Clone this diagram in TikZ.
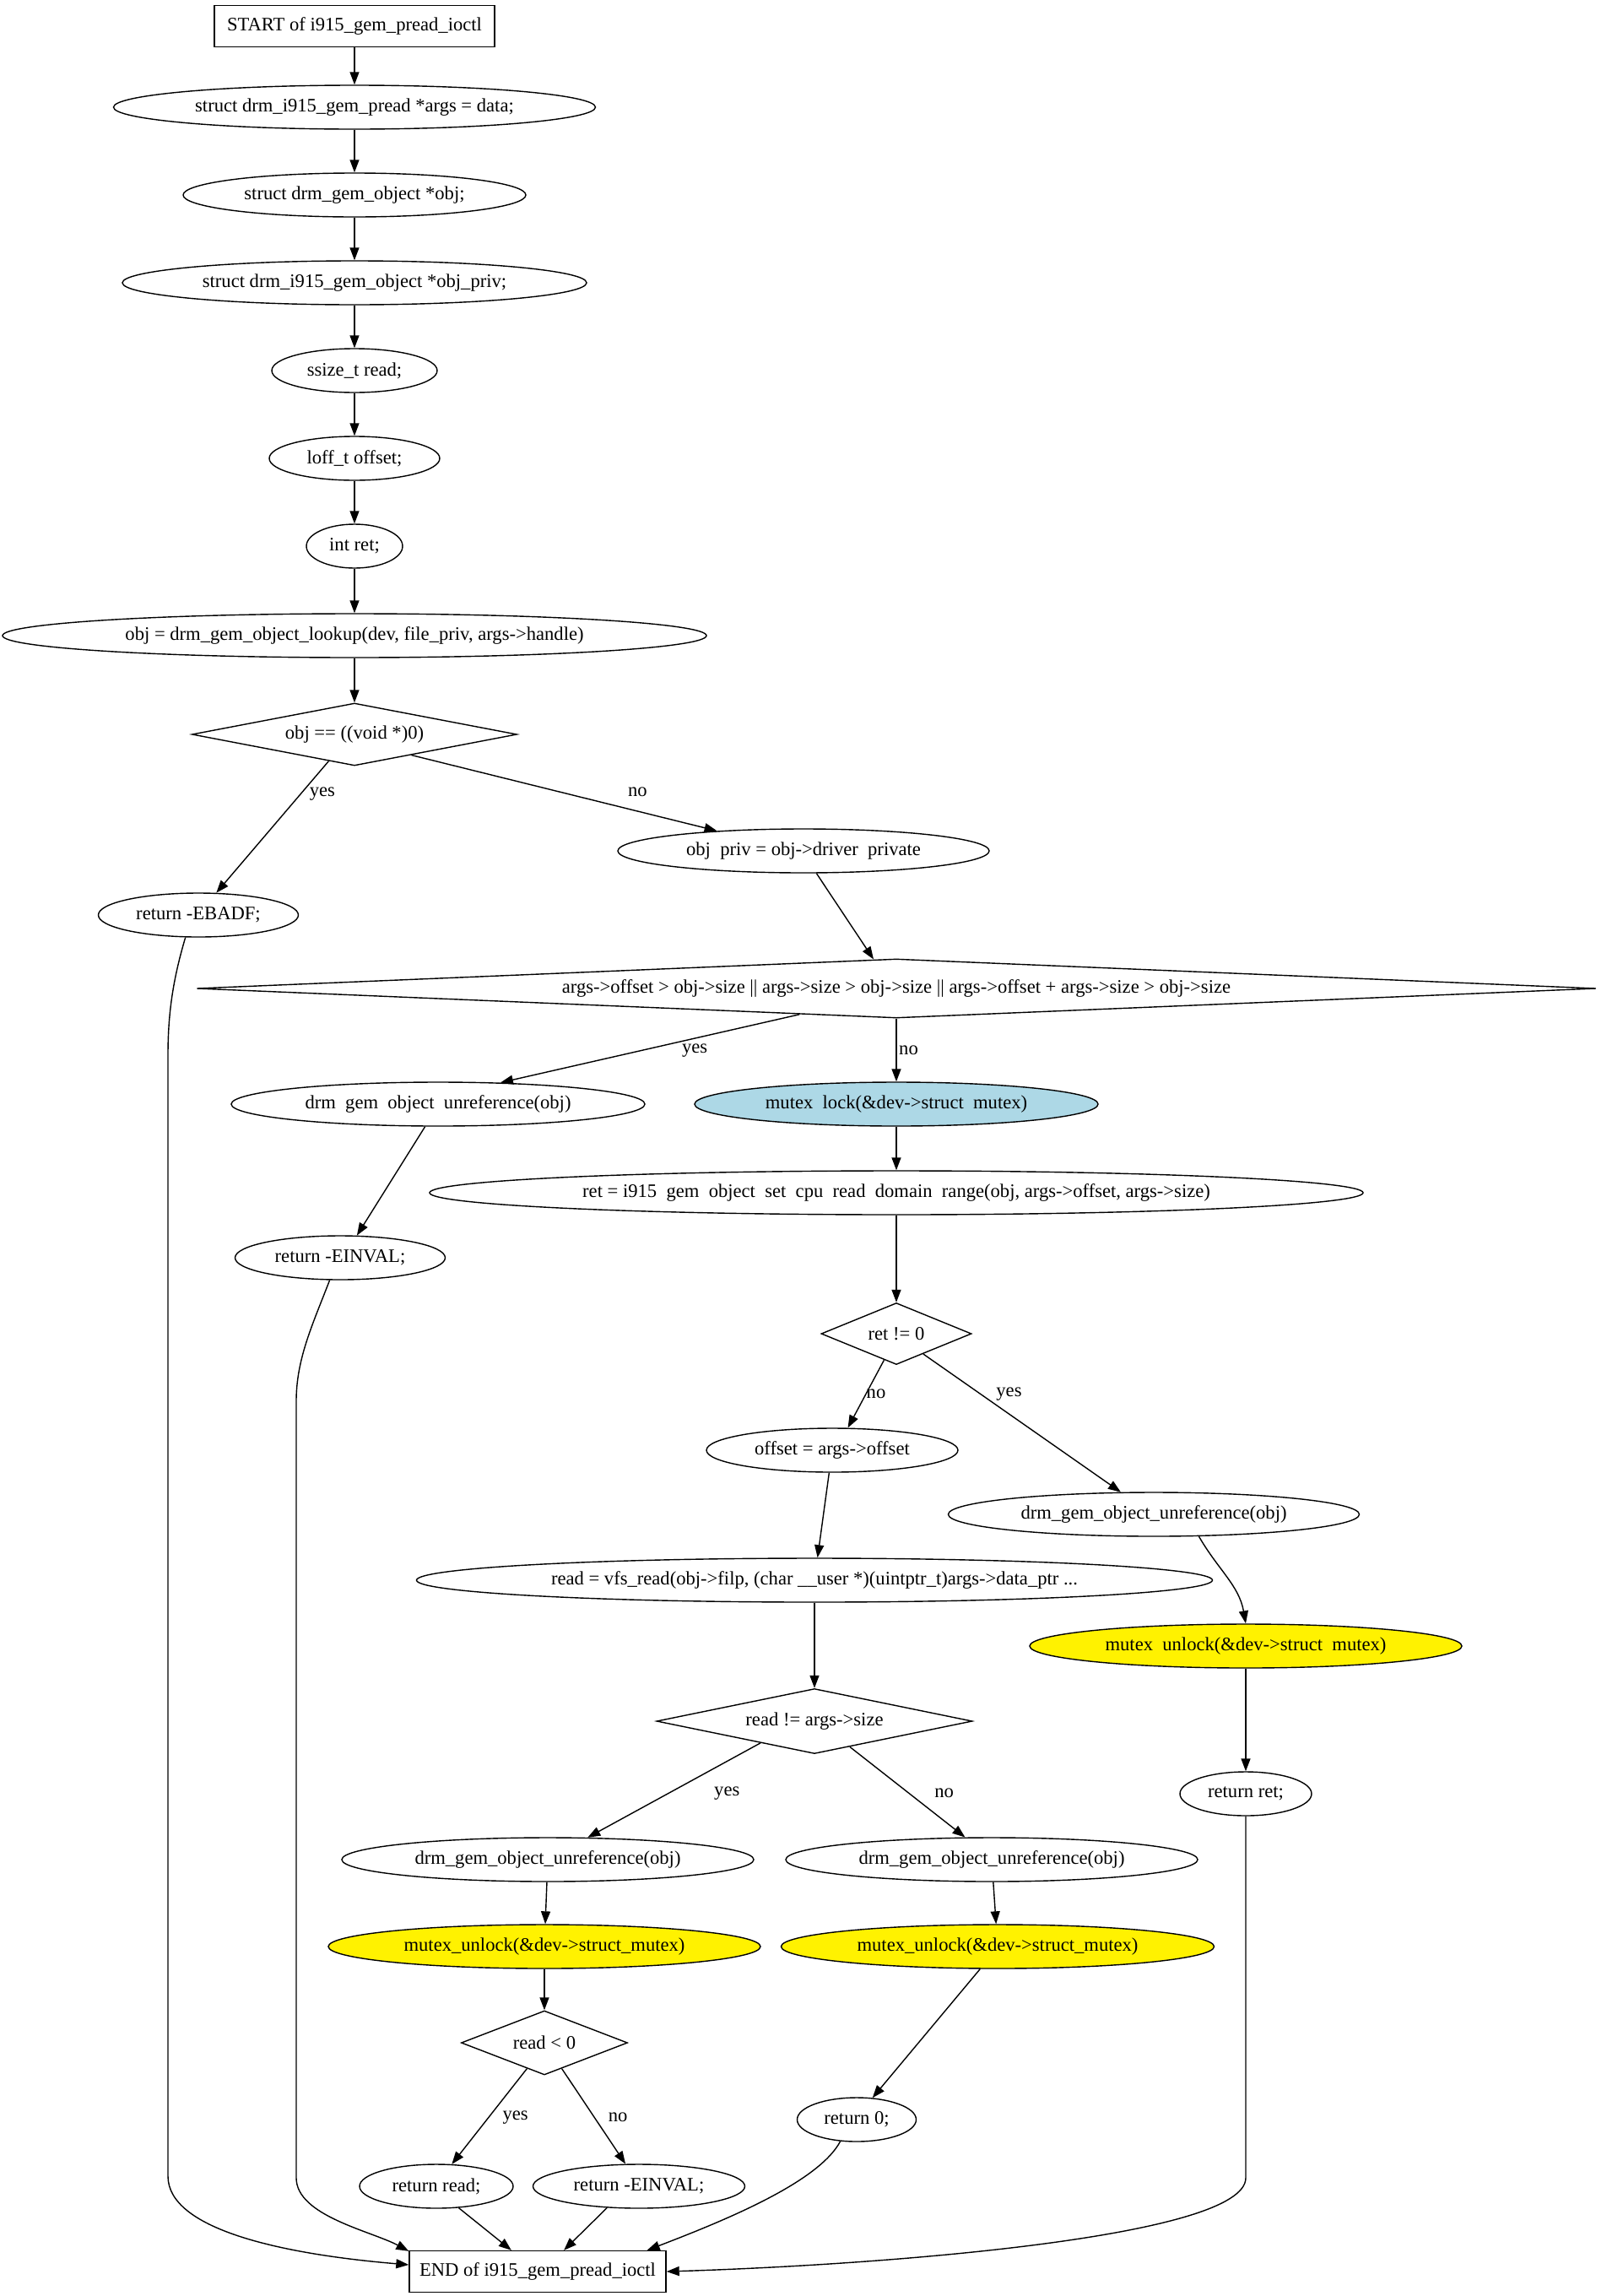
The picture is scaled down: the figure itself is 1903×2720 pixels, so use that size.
\documentclass[tikz,border=0pt]{standalone}
\usepackage{fontspec}
\setmainfont{Liberation Serif}
\usetikzlibrary{shapes.geometric,arrows.meta}
\definecolor{lightblue}{HTML}{ADD8E6}
\begin{document}
\begin{tikzpicture}
  [x=0.5pt, y=-0.5pt, line width=.7pt,
  font=\fontsize{11.3}{13.5}\selectfont,
  stmt/.style={draw, ellipse, inner sep=0pt, minimum height=26pt, minimum width=0.5pt*#1},
  term/.style={draw, rectangle, inner sep=0pt, minimum height=24.5pt, minimum width=0.5pt*#1},
  cond/.style n args={3}{draw, diamond, inner sep=0pt, minimum width=0.5pt*#1, minimum height=0.5pt*#2, shape aspect=#3},
  lock/.style={fill=lightblue},
  unlock/.style={fill=yellow},
  lbl/.style={inner sep=0pt},
  arr/.style={draw, -{Triangle[length=7.5pt,width=5.5pt]}}]
  \useasboundingbox (0,0) rectangle (1903,2720);
  \node[term=332] (start) at (420,31) {START of i915\_gem\_pread\_ioctl};
  \node[stmt=571] (args) at (420,127) {struct drm\_i915\_gem\_pread *args = data;};
  \node[stmt=406] (obj) at (420,231) {struct drm\_gem\_object *obj;};
  \node[stmt=550] (objpriv) at (420,335) {struct drm\_i915\_gem\_object *obj\_priv;};
  \node[stmt=196] (sread) at (420,439) {ssize\_t read;};
  \node[stmt=202] (loff) at (420,543) {loff\_t offset;};
  \node[stmt=114] (iret) at (420,647) {int ret;};
  \node[stmt=834] (lookup) at (420,753) {obj = drm\_gem\_object\_lookup(dev, file\_priv, args->handle)};
  \node[cond={385}{74}{5.2}] (c1) at (420,870) {obj == ((void *)0)};
  \node[stmt=237] (ebadf) at (235,1084) {return -EBADF;};
  \node[stmt=440] (opriv) at (952,1008) {obj\enspace priv = obj->driver\enspace private};
  \node[cond={1658}{70}{23.7}] (c2) at (1062,1171) {args->offset > obj->size || args->size > obj->size || args->offset + args->size > obj->size};
  \node[stmt=490] (unref1) at (519,1308) {drm\enspace gem\enspace object\enspace unreference(obj)};
  \node[stmt=478, lock] (mlock) at (1062,1308) {mutex\enspace lock(\&dev->struct\enspace mutex)};
  \node[stmt=1106] (setdom) at (1062,1413) {ret = i915\enspace gem\enspace object\enspace set\enspace cpu\enspace read\enspace domain\enspace range(obj, args->offset, args->size)};
  \node[stmt=249] (einval1) at (403,1490) {return -EINVAL;};
  \node[cond={178}{73}{2.44}] (c3) at (1062,1580) {ret != 0};
  \node[stmt=298] (offs) at (986,1718) {offset = args->offset};
  \node[stmt=487] (unref2) at (1367,1794) {drm\_gem\_object\_unreference(obj)};
  \node[stmt=943] (vfs) at (965,1872) {read = vfs\_read(obj->filp, (char \_\_user *)(uintptr\_t)args->data\_ptr ...};
  \node[stmt=512, unlock] (unlock1) at (1476,1950) {mutex\enspace unlock(\&dev->struct\enspace mutex)};
  \node[cond={374}{77}{4.86}] (c4) at (965,2039) {read != args->size};
  \node[stmt=156] (rret) at (1476,2125) {return ret;};
  \node[stmt=488] (unref3) at (649,2203) {drm\_gem\_object\_unreference(obj)};
  \node[stmt=488] (unref4) at (1175,2203) {drm\_gem\_object\_unreference(obj)};
  \node[stmt=512, unlock] (unlock2) at (645,2306) {mutex\_unlock(\&dev->struct\_mutex)};
  \node[stmt=513, unlock] (unlock3) at (1182,2306) {mutex\_unlock(\&dev->struct\_mutex)};
  \node[cond={197}{76}{2.6}] (c5) at (645,2420) {read < 0};
  \node[stmt=141] (ret0) at (1015,2511) {return 0;};
  \node[stmt=182] (rread) at (517,2590) {return read;};
  \node[stmt=251] (einval2) at (757,2590) {return -EINVAL;};
  \node[term=304] (done) at (637,2691) {END of i915\_gem\_pread\_ioctl};

  \foreach \a/\b in {start/args, args/obj, obj/objpriv, objpriv/sread, sread/loff, loff/iret,
    iret/lookup, lookup/c1, mlock/setdom, setdom/c3, offs/vfs, vfs/c4, unlock1/rret,
    unref3/unlock2, unref4/unlock3, unlock2/c5}
    \draw[arr] (\a) -- (\b);

  \draw[arr] (c1.226) -- node[lbl, pos=.25, right=5pt] {yes} (ebadf.51);
  \draw[arr] (c1.340) -- node[lbl, pos=.74, above=8.5pt] {no} (opriv.167);
  \draw[arr] (opriv.300) -- (c2.128);
  \draw[arr] (c2.195) -- node[lbl, pos=.35, below=3pt] {yes} (unref1.19);
  \draw[arr] (c2) -- node[lbl, right=1.25pt] {no} (mlock);
  \draw[arr] (unref1.240) -- (einval1.53);
  \draw[arr] (c3.245) -- node[lbl, pos=.5, right=0pt] {no} (offs.55);
  \draw[arr] (c3.323) -- node[lbl, pos=.29, right=9pt] {yes} (unref2.146);
  \draw[arr] (unref2.334) to[out=-60, in=100] (unlock1.north);
  \draw[arr] (c4.202) -- node[lbl, pos=.53, right=26.5pt] {yes} (unref3.29);
  \draw[arr] (c4.324) -- node[lbl, pos=.51, right=15pt] {no} (unref4.140);
  \draw[arr] (unlock3.232) -- (ret0.54);
  \draw[arr] (c5.236) -- node[lbl, pos=.51, right=8pt] {yes} (rread.55);
  \draw[arr] (c5.304) -- node[lbl, pos=.51, right=8pt] {no} (einval2.121);
  \draw[arr] (rread.316) -- (done.141);
  \draw[arr] (einval2.214) -- (done.39);
  \draw[arr] (ret0.233) .. controls (970,2585) and (860,2630) .. (done.11);
  \draw[arr] (ebadf.240) .. controls (205,1160) and (199,1200) .. (199,1250)
    -- (199,2578) .. controls (199,2640) and (330,2670) .. (done.177);
  \draw[arr] (einval1.245) .. controls (370,1570) and (351,1610) .. (351,1660)
    -- (351,2580) .. controls (351,2625) and (440,2643) .. (done.171);
  \draw[arr] (rret) -- (1476,2580) .. controls (1476,2650) and (1050,2683) .. (done.east);
\end{tikzpicture}
\end{document}
